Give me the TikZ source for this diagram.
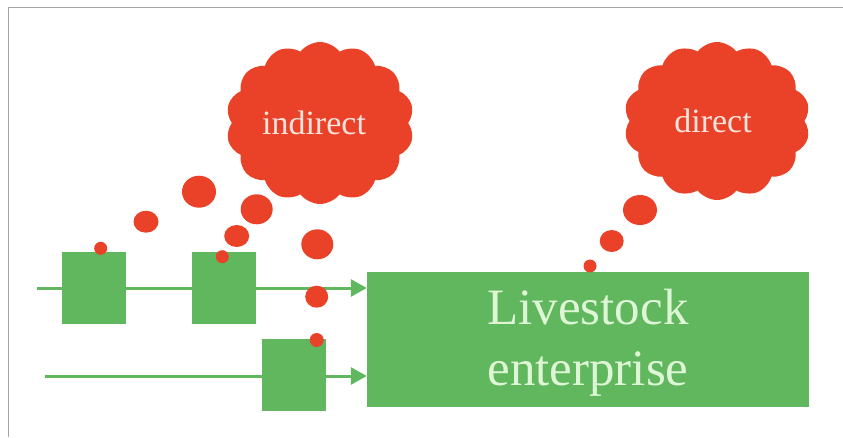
\documentclass[tikz,border=0pt]{standalone}
\usepackage{fontspec}
\setmainfont{Liberation Serif}
\usetikzlibrary{shapes.symbols,arrows.meta}
\definecolor{leaf}{RGB}{96,183,94}
\definecolor{ember}{RGB}{234,66,40}
\definecolor{paleleaf}{RGB}{222,246,214}
\definecolor{palerose}{RGB}{250,228,220}
\definecolor{framegray}{RGB}{165,165,165}
\tikzset{
  unit/.style={fill=leaf, draw=none, minimum width=64pt, minimum height=72pt, inner sep=0pt},
  enterprise/.style={fill=leaf, draw=none, minimum width=442pt, minimum height=135pt, inner sep=0pt},
  bigtext/.style={text=paleleaf, font=\fontsize{51}{61}\selectfont, align=center, inner sep=0pt},
  thought/.style={cloud, cloud puffs=14, cloud puff arc=105, aspect=1.15, fill=ember, draw=none,
    inner sep=0pt},
  thoughttext/.style={text=palerose, font=\fontsize{34}{40}\selectfont, inner sep=0pt},
  flow/.style={draw=leaf, line width=3pt, -{Triangle[length=16pt,width=17pt]}},
  bubble/.style={fill=ember}
}
\begin{document}
\begin{tikzpicture}[x=1pt,y=-1pt]
  \useasboundingbox (0,0) rectangle (843,437);
  \fill[white] (0,0) rectangle (843,437);
  % frame edges
  \draw[framegray, line width=1pt] (8,437) -- (8,7) -- (843,7);

  % receiving enterprise
  \node[enterprise] (big) at (588,339) {};
  \node[bigtext] (bigname) at ([yshift=-4pt]big.center) {Livestock\\enterprise};

  % supply flows
  \coordinate (s1) at (37,288);
  \coordinate (s2) at (45,376);
  \draw[flow] (s1) -- (s1 -| big.west);
  \draw[flow] (s2) -- (s2 -| big.west);

  % upstream units
  \node[unit] (u1) at (94,288) {};
  \node[unit] (u2) at (224,288) {};
  \node[unit] (u3) at (293.5,375) {};

  % thought clouds
  \node[thought, minimum width=188pt, minimum height=162pt] (ind) at (320,123) {};
  \node[thoughttext] (indname) at ([xshift=-6pt]ind.center) {indirect};
  \node[thought, minimum width=186pt, minimum height=158pt] (dir) at (717,121) {};
  \node[thoughttext] (dirname) at ([xshift=-4pt]dir.center) {direct};

  % bubble trails: indirect
  \fill[bubble] (100.7,248.3) ellipse (6.5pt and 6.5pt);
  \fill[bubble] (146,221.7) ellipse (12.5pt and 11pt);
  \fill[bubble] (199,191.7) ellipse (17pt and 16pt);
  \fill[bubble] (222.3,256.7) ellipse (6.5pt and 6.5pt);
  \fill[bubble] (236.7,236) ellipse (12.5pt and 11pt);
  \fill[bubble] (256.7,209.3) ellipse (16pt and 15pt);
  \fill[bubble] (316.7,340) ellipse (7pt and 7pt);
  \fill[bubble] (316.7,296.7) ellipse (11.5pt and 11pt);
  \fill[bubble] (317.3,244.3) ellipse (16pt and 15pt);

  % bubble trail: direct
  \fill[bubble] (590,266) ellipse (6.5pt and 6.5pt);
  \fill[bubble] (611.7,241) ellipse (12pt and 11pt);
  \fill[bubble] (640,210) ellipse (17pt and 15pt);
\end{tikzpicture}
\end{document}
